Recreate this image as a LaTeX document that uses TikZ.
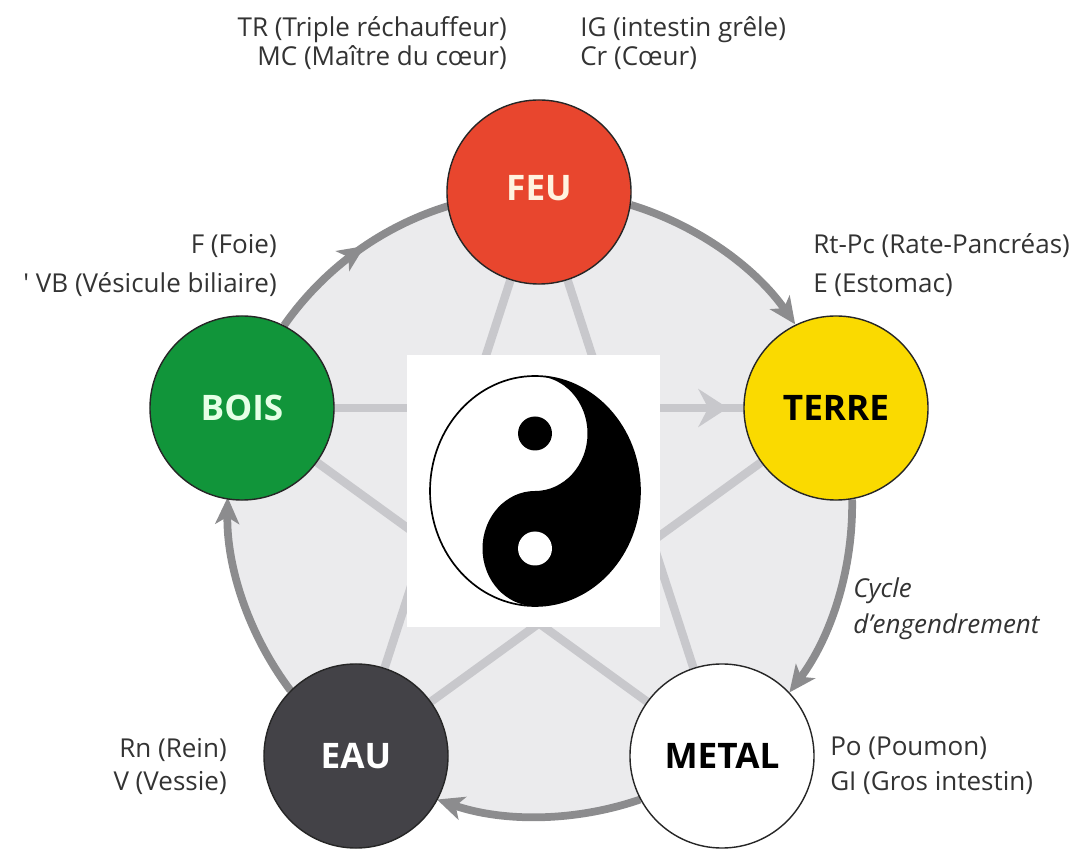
\documentclass[tikz,border=0pt]{standalone}
\usepackage{fontspec}
\setmainfont{Open Sans}
\usetikzlibrary{arrows.meta,decorations.markings,backgrounds}
\definecolor{feucol}{HTML}{E8462E}
\definecolor{feutext}{HTML}{FFF3E0}
\definecolor{boiscol}{HTML}{11953A}
\definecolor{boistext}{HTML}{E6FFE6}
\definecolor{terrecol}{HTML}{FADA00}
\definecolor{eaucol}{HTML}{434247}
\definecolor{ringcol}{HTML}{8C8C8E}
\definecolor{starcol}{HTML}{C8C8CC}
\definecolor{disccol}{HTML}{EBEBED}
\definecolor{labelcol}{HTML}{333333}
\begin{document}
\begin{tikzpicture}[x=0.025cm, y=0.025cm,
    elem/.style={circle, draw=black!85, line width=1pt, minimum size=4.6cm, inner sep=0pt,
      font=\fontsize{25}{30}\selectfont\bfseries},
    organ/.style={inner sep=0pt, text=labelcol, font=\fontsize{18.5}{22}\selectfont},
    ring/.style={draw=ringcol, line width=5.5pt},
    ringtip/.style={-{Stealth[length=19pt, width=17pt, inset=5pt]}},
    star/.style={draw=starcol, line width=6pt}]
  \useasboundingbox (0,0) rectangle (1079,850);
  \coordinate (c) at (539,346);
  % the five elements
  \node[elem, fill=feucol, text=feutext] (feu) at (539,658) {\raisebox{6pt}{FEU}};
  \node[elem, fill=terrecol, text=black] (terre) at (836,442) {TERRE};
  \node[elem, fill=white, text=black] (metal) at (722,94) {METAL};
  \node[elem, fill=eaucol, text=white] (eau) at (356,94) {EAU};
  \node[elem, fill=boiscol, text=boistext] (bois) at (242,442) {BOIS};
  \begin{pgfonlayer}{background}
    \fill[disccol] (c) circle[radius=312];
    \draw[star] (feu.center) -- (eau.center);
    \draw[star] (feu.center) -- (metal.center);
    \draw[star] (bois.center) -- (metal.center);
    \draw[star] (terre.center) -- (eau.center);
    \draw[star, postaction={decorate, decoration={markings,
      mark=at position 0.818 with {\arrow[starcol]{Stealth[length=21pt, width=27pt, inset=7pt]}}}}]
      (bois.center) -- (terre.center);
    % cycle d'engendrement
    \draw[ring, postaction={decorate, decoration={markings,
      mark=at position 0.55 with {\arrow[ringcol]{Stealth[length=19pt, width=17pt, inset=5pt]}}}}]
      (bois.63.5) arc[start angle=145, end angle=107, radius=312];
    \draw[ring, ringtip] (feu.-8.5) arc[start angle=73, end angle=35, radius=312];
    \draw[ring, ringtip] (terre.-80.5) arc[start angle=1, end angle=-37, radius=312];
    \draw[ring, ringtip] (metal.-152.5) arc[start angle=-71, end angle=-109, radius=312];
    \draw[ring, ringtip] (eau.135.5) arc[start angle=217, end angle=179, radius=312];
  \end{pgfonlayer}
  % yin yang
  \fill[white] (407,223) rectangle (660,495);
  \begin{scope}[shift={(535,359)}, xscale=0.913]
    \fill[black] (0,115) arc[start angle=90, end angle=-90, radius=115]
      arc[start angle=270, end angle=90, radius=57.5]
      arc[start angle=-90, end angle=90, radius=57.5] -- cycle;
    \draw[line width=1.2pt] (0,0) circle[radius=115];
    \fill[black] (0,57.5) ellipse[x radius=18.6, y radius=17];
    \fill[white] (0,-57.5) ellipse[x radius=18.6, y radius=17];
  \end{scope}
  % organs
  \node[organ, anchor=base east] (tr) at (507,813) {TR (Triple réchauffeur)};
  \node[organ, anchor=base east] (mc) at (507,784) {MC (Maître du cœur)};
  \node[organ, anchor=base west] (ig) at (580,813) {IG (intestin grêle)};
  \node[organ, anchor=base west] (cr) at (580,784) {Cr (Cœur)};
  \node[organ, anchor=base east] (f) at (277,596) {F (Foie)};
  \node[organ, anchor=base east] (vb) at (277,557) {\textquotesingle\ VB (Vésicule biliaire)};
  \node[organ, anchor=base west] (rtpc) at (813,596) {Rt-Pc (Rate-Pancréas)};
  \node[organ, anchor=base west] (e) at (813,557) {E (Estomac)};
  \node[organ, anchor=base east] (rn) at (227,93) {Rn (Rein)};
  \node[organ, anchor=base east] (v) at (227,60) {V (Vessie)};
  \node[organ, anchor=base west] (po) at (830,95) {Po (Poumon)};
  \node[organ, anchor=base west] (gi) at (830,60) {GI (Gros intestin)};
  \node[organ, anchor=base west, font=\fontsize{18.5}{22}\selectfont\itshape] (cycle) at (853,252) {Cycle};
  \node[organ, anchor=base west, font=\fontsize{18.5}{22}\selectfont\itshape] (eng) at (853,217) {d’engendrement};
\end{tikzpicture}
\end{document}
